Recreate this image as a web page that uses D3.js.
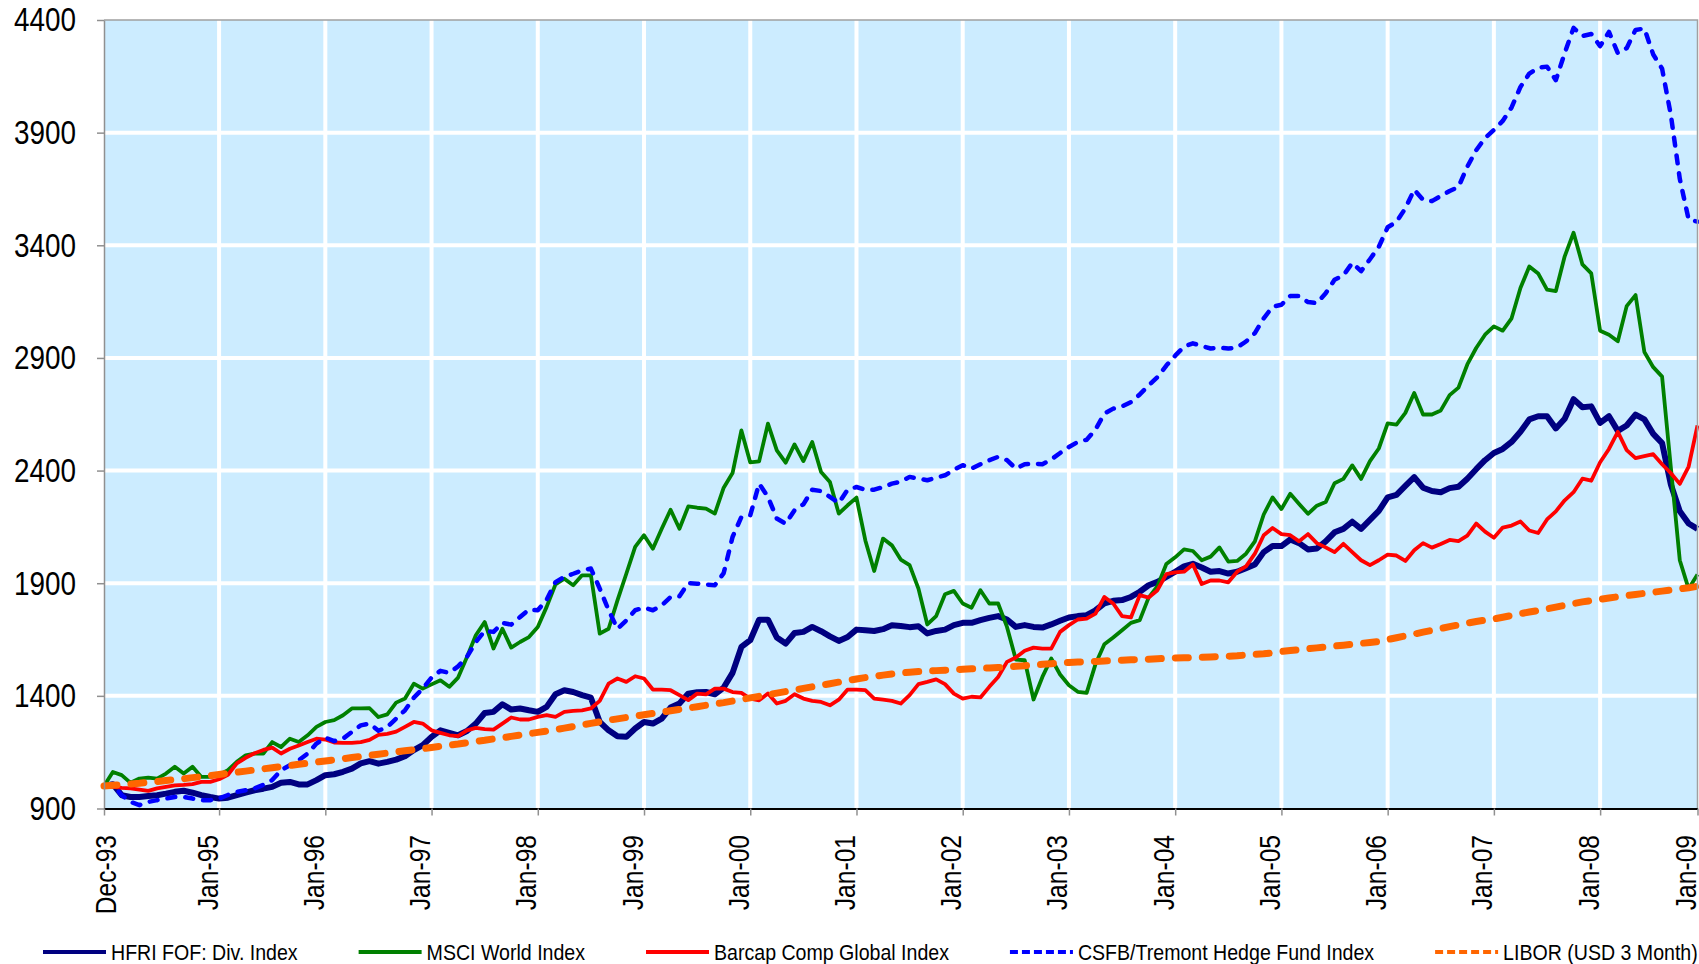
<!DOCTYPE html>
<html>
<head>
<meta charset="utf-8">
<script src="https://cdn.jsdelivr.net/npm/d3@7"></script>
<style>
  body { margin: 0; background: #fff; }
</style>
</head>
<body>
<svg id="chart" width="1699" height="964"></svg>
<script>
// monthly categories Dec-93 .. Dec-08
const months = d3.timeMonths(new Date(1993, 11, 1), new Date(2009, 0, 1)).map(d3.timeFormat("%b-%y"));

const tickCats = ["Dec-93", "Jan-95", "Jan-96", "Jan-97", "Jan-98", "Jan-99", "Jan-00", "Jan-01",
    "Jan-02", "Jan-03", "Jan-04", "Jan-05", "Jan-06", "Jan-07", "Jan-08", "Dec-08"];
const tickLabels = ["Dec-93", "Jan-95", "Jan-96", "Jan-97", "Jan-98", "Jan-99", "Jan-00", "Jan-01",
    "Jan-02", "Jan-03", "Jan-04", "Jan-05", "Jan-06", "Jan-07", "Jan-08", "Jan-09"];
const yTicks = [900, 1400, 1900, 2400, 2900, 3400, 3900, 4400];

const hfri = [
    1000, 1008, 959, 951, 951, 955, 959, 966, 974, 979, 970, 959,
    951, 944, 948, 959, 970, 981, 988, 996, 1014, 1018, 1007, 1007,
    1026, 1048, 1052, 1063, 1077, 1100, 1110, 1099, 1107, 1117, 1132, 1159,
    1181, 1218, 1247, 1236, 1225, 1244, 1277, 1324, 1329, 1363, 1339, 1344,
    1336, 1329, 1351, 1407, 1425, 1417, 1403, 1392, 1284, 1247, 1221, 1218,
    1255, 1284, 1277, 1299, 1348, 1366, 1410, 1416, 1417, 1407, 1437, 1502,
    1617, 1647, 1738, 1738, 1659, 1632, 1679, 1684, 1706, 1687, 1664, 1644,
    1661, 1694, 1691, 1688, 1696, 1713, 1710, 1705, 1709, 1677, 1688, 1694,
    1714, 1724, 1724, 1736, 1746, 1754, 1739, 1706, 1714, 1706, 1703, 1717,
    1733, 1748, 1754, 1758, 1780, 1810, 1822, 1825, 1839, 1862, 1891, 1906,
    1928, 1951, 1975, 1986, 1970, 1951, 1954, 1943, 1951, 1967, 1983, 2038,
    2065, 2065, 2094, 2078, 2050, 2054, 2086, 2126, 2141, 2173, 2141, 2181,
    2221, 2281, 2292, 2332, 2371, 2324, 2309, 2304, 2322, 2328, 2364, 2406,
    2446, 2478, 2496, 2527, 2572, 2627, 2641, 2641, 2587, 2630, 2717, 2681,
    2685, 2612, 2641, 2576, 2600, 2648, 2627, 2563, 2522, 2337, 2219, 2165,
    2141];

const msci = [
    1000, 1062, 1048, 1014, 1033, 1037, 1033, 1055, 1085, 1055, 1085, 1040,
    1040, 1050, 1070, 1107, 1136, 1144, 1144, 1195, 1173, 1210, 1195, 1225,
    1262, 1284, 1292, 1314, 1344, 1344, 1345, 1306, 1318, 1370, 1388, 1454,
    1432, 1451, 1469, 1440, 1481, 1573, 1669, 1728, 1610, 1698, 1614, 1639,
    1661, 1706, 1795, 1895, 1920, 1891, 1935, 1935, 1676, 1698, 1824, 1942,
    2061, 2113, 2053, 2142, 2226, 2142, 2241, 2235, 2231, 2209, 2324, 2389,
    2578, 2436, 2441, 2608, 2490, 2435, 2516, 2442, 2527, 2394, 2349, 2209,
    2246, 2280, 2090, 1954, 2098, 2068, 2005, 1980, 1876, 1717, 1754, 1851,
    1866, 1810, 1791, 1869, 1810, 1810, 1706, 1561, 1558, 1384, 1484, 1566,
    1495, 1447, 1418, 1413, 1541, 1629, 1659, 1691, 1724, 1736, 1836, 1887,
    1985, 2015, 2050, 2043, 2002, 2018, 2059, 1996, 1999, 2031, 2086, 2205,
    2281, 2229, 2297, 2252, 2208, 2244, 2260, 2344, 2363, 2423, 2363, 2442,
    2498, 2609, 2604, 2656, 2744, 2649, 2649, 2667, 2735, 2768, 2871, 2944,
    3003, 3040, 3021, 3076, 3210, 3306, 3275, 3203, 3197, 3351, 3456, 3315,
    3275, 3021, 3003, 2974, 3130, 3179, 2926, 2859, 2817, 2409, 2002, 1875,
    1939];

const barcap = [
    1000, 996, 992, 989, 984, 978, 989, 996, 1003, 1005, 1008, 1018,
    1018, 1030, 1050, 1100, 1125, 1145, 1160, 1170, 1144, 1165, 1180, 1195,
    1210, 1206, 1193, 1191, 1191, 1195, 1205, 1227, 1231, 1241, 1262, 1284,
    1277, 1247, 1236, 1225, 1221, 1247, 1258, 1252, 1250, 1277, 1304, 1295,
    1295, 1307, 1314, 1307, 1329, 1333, 1336, 1344, 1378, 1454, 1477, 1462,
    1487, 1477, 1428, 1428, 1425, 1403, 1381, 1410, 1407, 1432, 1432, 1417,
    1413, 1388, 1380, 1410, 1366, 1378, 1407, 1388, 1378, 1373, 1358, 1383,
    1428, 1428, 1425, 1388, 1383, 1378, 1366, 1403, 1452, 1462, 1473, 1452,
    1410, 1388, 1396, 1393, 1440, 1484, 1551, 1570, 1600, 1614, 1610, 1610,
    1684, 1714, 1739, 1743, 1765, 1839, 1810, 1754, 1748, 1847, 1836, 1869,
    1940, 1948, 1951, 1983, 1896, 1912, 1912, 1904, 1951, 1975, 2031, 2113,
    2145, 2118, 2113, 2086, 2118, 2078, 2059, 2038, 2075, 2038, 2002, 1980,
    2002, 2027, 2023, 1999, 2046, 2078, 2058, 2074, 2092, 2087, 2111, 2165,
    2129, 2102, 2147, 2156, 2174, 2134, 2123, 2183, 2219, 2268, 2304, 2364,
    2355, 2437, 2496, 2572, 2491, 2455, 2464, 2473, 2428, 2388, 2341, 2418,
    2600];

const csfb = [
    1000, 1005, 959, 929, 915, 929, 937, 944, 951, 951, 944, 937,
    937, 944, 960, 974, 981, 989, 1005, 1026, 1070, 1092, 1114, 1144,
    1188, 1215, 1199, 1210, 1240, 1269, 1277, 1245, 1262, 1299, 1336, 1392,
    1432, 1481, 1511, 1502, 1531, 1573, 1639, 1688, 1684, 1724, 1716, 1750,
    1783, 1780, 1827, 1905, 1928, 1942, 1957, 1965, 1876, 1780, 1698, 1735,
    1780, 1792, 1780, 1802, 1839, 1842, 1901, 1898, 1894, 1891, 1945, 2105,
    2194, 2201, 2342, 2283, 2187, 2164, 2224, 2250, 2315, 2309, 2283, 2256,
    2315, 2327, 2315, 2315, 2327, 2342, 2350, 2372, 2364, 2357, 2369, 2379,
    2404, 2424, 2409, 2428, 2446, 2461, 2446, 2409, 2428, 2431, 2428, 2449,
    2478, 2505, 2527, 2537, 2582, 2653, 2675, 2685, 2704, 2738, 2778, 2815,
    2866, 2910, 2950, 2965, 2953, 2942, 2946, 2942, 2946, 2973, 3010, 3076,
    3127, 3136, 3175, 3175, 3148, 3143, 3187, 3247, 3266, 3322, 3285, 3338,
    3393, 3480, 3504, 3564, 3647, 3602, 3596, 3619, 3641, 3659, 3749, 3822,
    3876, 3912, 3952, 4012, 4103, 4162, 4188, 4193, 4133, 4253, 4365, 4329,
    4338, 4284, 4347, 4253, 4275, 4356, 4362, 4247, 4184, 3976, 3695, 3514,
    3505];

const libor = [
    1000, 1003, 1006, 1009, 1012, 1016, 1020, 1024, 1028, 1032, 1037, 1041,
    1046, 1051, 1056, 1061, 1066, 1071, 1076, 1081, 1086, 1091, 1096, 1101,
    1106, 1111, 1116, 1121, 1126, 1131, 1136, 1141, 1146, 1151, 1156, 1161,
    1166, 1171, 1176, 1181, 1186, 1192, 1198, 1203, 1209, 1214, 1220, 1226,
    1232, 1238, 1244, 1250, 1257, 1264, 1271, 1278, 1285, 1292, 1298, 1304,
    1310, 1316, 1322, 1328, 1334, 1340, 1346, 1352, 1358, 1364, 1370, 1377,
    1384, 1391, 1398, 1405, 1412, 1419, 1426, 1433, 1440, 1447, 1454, 1461,
    1468, 1475, 1481, 1487, 1492, 1497, 1501, 1505, 1508, 1510, 1512, 1514,
    1516, 1518, 1520, 1522, 1524, 1526, 1528, 1531, 1534, 1537, 1540, 1543,
    1546, 1548, 1550, 1551, 1553, 1555, 1557, 1558, 1560, 1562, 1563, 1565,
    1566, 1568, 1569, 1570, 1571, 1573, 1574, 1576, 1578, 1581, 1584, 1587,
    1591, 1597, 1601, 1605, 1609, 1613, 1617, 1621, 1625, 1629, 1633, 1637,
    1641, 1650, 1658, 1666, 1674, 1683, 1691, 1699, 1707, 1715, 1723, 1730,
    1736, 1741, 1749, 1757, 1765, 1772, 1779, 1786, 1794, 1802, 1810, 1817,
    1823, 1828, 1834, 1840, 1845, 1850, 1855, 1860, 1865, 1870, 1875, 1880,
    1886];

const series = [
    { name: "HFRI FOF: Div. Index", values: hfri, color: "#000080", width: 6, dash: null },
    { name: "MSCI World Index", values: msci, color: "#008000", width: 3.8, dash: null },
    { name: "Barcap Comp Global Index", values: barcap, color: "#ff0000", width: 3.8, dash: null },
    { name: "CSFB/Tremont Hedge Fund Index", values: csfb, color: "#0000ff", width: 4.5, dash: "8,10" },
    { name: "LIBOR (USD 3 Month)", values: libor, color: "#ff6600", width: 7, dash: "13,14" }
];

// no narrow font installed: squeeze a regular one horizontally
const font = "'Liberation Sans', Arial, sans-serif";
const squeeze = 0.82;
const svg = d3.select("#chart").attr("font-family", font);

const plotLeft = 104, plotRight = 1697.5, plotTop = 20, plotBottom = 808.5;

const x = d3.scalePoint().domain(months).range([plotLeft, plotRight]);
const y = d3.scaleLinear().domain([900, 4400]).range([plotBottom, plotTop]);

// plot background
svg.append("rect")
    .attr("x", plotLeft).attr("y", plotTop)
    .attr("width", plotRight - plotLeft).attr("height", plotBottom - plotTop)
    .attr("fill", "#ccecff");

// white grid
svg.append("g").selectAll("line")
    .data(tickCats.slice(1, -1))
    .join("line")
    .attr("x1", d => x(d)).attr("x2", d => x(d))
    .attr("y1", plotTop).attr("y2", plotBottom)
    .attr("stroke", "#fff").attr("stroke-width", 4);

svg.append("g").selectAll("line")
    .data(yTicks.slice(1, -1))
    .join("line")
    .attr("x1", plotLeft).attr("x2", plotRight)
    .attr("y1", d => y(d)).attr("y2", d => y(d))
    .attr("stroke", "#fff").attr("stroke-width", 4);

// series
const line = d3.line()
    .x((d, i) => x(months[i]))
    .y(d => y(d));

series.forEach(s => {
    svg.append("path")
        .datum(s.values)
        .attr("fill", "none")
        .attr("stroke", s.color)
        .attr("stroke-width", s.width)
        .attr("stroke-linejoin", "round")
        .attr("stroke-linecap", s.dash ? "round" : "butt")
        .attr("stroke-dasharray", s.dash)
        .attr("d", line);
});

// frame
svg.append("path")
    .attr("d", `M${plotLeft},${plotTop}H${plotRight}V${plotBottom}`)
    .attr("fill", "none").attr("stroke", "#a0a0a0").attr("stroke-width", 1.5);

// y axis
const gy = svg.append("g")
    .attr("transform", `translate(${plotLeft},0)`)
    .call(d3.axisLeft(y).tickValues(yTicks).tickFormat(d3.format("d")).tickSize(7).tickSizeOuter(0));
gy.attr("font-family", font).attr("font-size", 34);
gy.select(".domain").attr("stroke", "#909090").attr("stroke-width", 1.5);
gy.selectAll(".tick line").attr("stroke", "#909090").attr("stroke-width", 1.5);
gy.selectAll(".tick text")
    .attr("fill", "#000")
    .attr("transform", `scale(${squeeze},1)`)
    .attr("x", -28 / squeeze);

// x axis
const gx = svg.append("g")
    .attr("transform", `translate(0,${plotBottom})`)
    .call(d3.axisBottom(x).tickValues(tickCats).tickFormat((d, i) => tickLabels[i]).tickSize(7).tickSizeOuter(0));
gx.attr("font-family", font).attr("font-size", 30);
gx.select(".domain").attr("stroke", "#000").attr("stroke-width", 2);
gx.selectAll(".tick line").attr("stroke", "#909090").attr("stroke-width", 1.5);
gx.selectAll(".tick text")
    .attr("fill", "#000")
    .attr("transform", `rotate(-90) scale(${squeeze},1)`)
    .attr("text-anchor", "end")
    .attr("x", -26.5 / squeeze)
    .attr("y", (d, i) => i === 0 ? 11 : -2)
    .attr("dy", 0);

// legend
const legendSqueeze = 0.87;
const legend = svg.append("g").attr("transform", "translate(0,952)");
let lx = 43;
series.forEach(s => {
    const item = legend.append("g").attr("transform", `translate(${lx},0)`);
    item.append("line")
        .attr("x1", 0).attr("x2", 63)
        .attr("stroke", s.color)
        .attr("stroke-width", 4)
        .attr("stroke-dasharray", s.dash ? "8,4" : null);
    const t = item.append("text")
        .attr("transform", `translate(68,0) scale(${legendSqueeze},1)`)
        .attr("dy", "0.35em")
        .attr("font-size", 22.5)
        .attr("fill", "#000")
        .text(s.name);
    lx += 68 + t.node().getComputedTextLength() * legendSqueeze + 61;
});
</script>
</body>
</html>
